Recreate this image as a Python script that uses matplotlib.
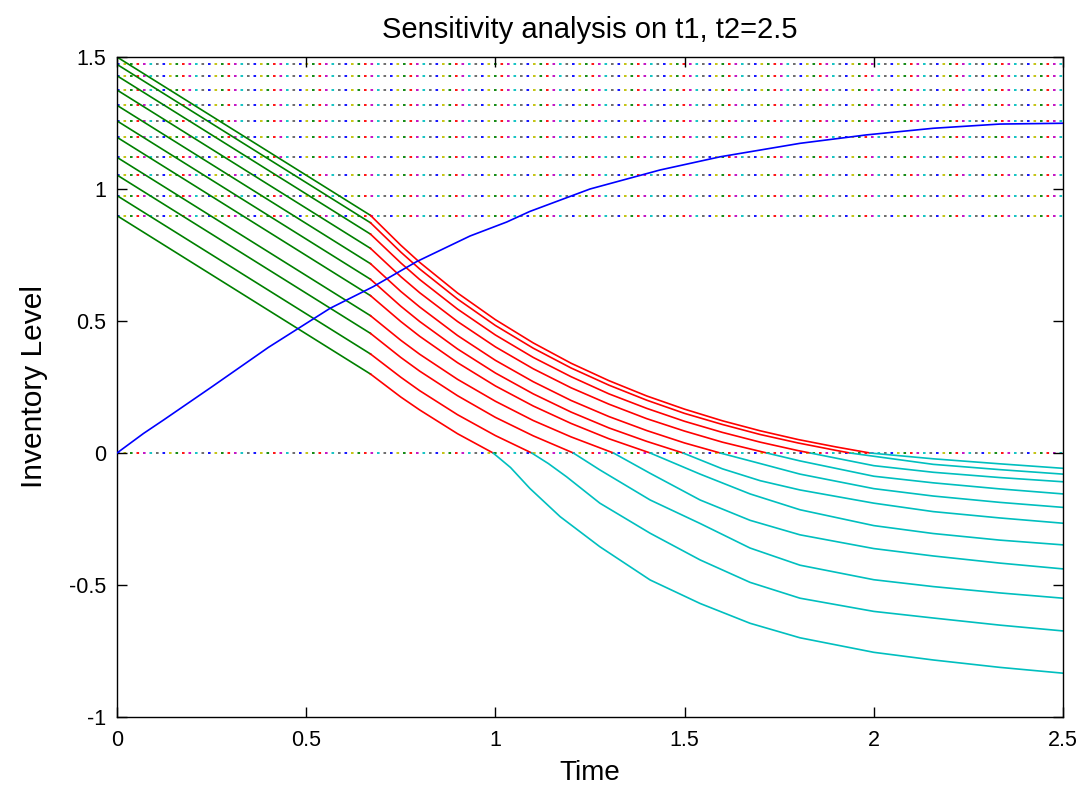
import matplotlib
matplotlib.use("Agg")
import matplotlib.pyplot as plt

# ---------------- data ----------------
t1 = 0.67
levels = [0.899, 0.975, 1.053, 1.120, 1.196, 1.258, 1.317, 1.375, 1.429, 1.472, 1.5]
green_end = [0.299, 0.375, 0.453, 0.520, 0.596, 0.658, 0.717, 0.775, 0.829, 0.872, 0.900]

red_t = [
    [0.67, 0.75, 0.8, 0.9, 0.994],
    [0.67, 0.75, 0.8, 0.9, 1.0, 1.096],
    [0.67, 0.75, 0.8, 0.9, 1.0, 1.1, 1.206],
    [0.67, 0.75, 0.8, 0.9, 1.0, 1.1, 1.2, 1.312],
    [0.67, 0.75, 0.8, 0.9, 1.0, 1.1, 1.2, 1.3, 1.409],
    [0.67, 0.75, 0.8, 0.9, 1.0, 1.1, 1.2, 1.3, 1.4, 1.496],
    [0.67, 0.75, 0.8, 0.9, 1.0, 1.1, 1.2, 1.3, 1.4, 1.5, 1.594],
    [0.67, 0.75, 0.8, 0.9, 1.0, 1.1, 1.2, 1.3, 1.4, 1.5, 1.6, 1.7, 1.717],
    [0.67, 0.75, 0.8, 0.9, 1.0, 1.1, 1.2, 1.3, 1.4, 1.5, 1.6, 1.7, 1.8, 1.832],
    [0.67, 0.75, 0.8, 0.9, 1.0, 1.1, 1.2, 1.3, 1.4, 1.5, 1.6, 1.7, 1.8, 1.9, 1.937],
    [0.67, 0.75, 0.8, 0.9, 1.0, 1.1, 1.2, 1.3, 1.4, 1.5, 1.6, 1.7, 1.8, 1.9, 1.99],
]
red_y = [
    [0.299, 0.212, 0.163, 0.073, 0.0],
    [0.375, 0.287, 0.236, 0.145, 0.066, 0.0],
    [0.453, 0.362, 0.310, 0.217, 0.135, 0.065, 0.0],
    [0.520, 0.427, 0.374, 0.279, 0.196, 0.123, 0.061, 0.0],
    [0.596, 0.498, 0.442, 0.342, 0.254, 0.178, 0.112, 0.054, 0.0],
    [0.658, 0.556, 0.498, 0.394, 0.303, 0.224, 0.155, 0.095, 0.044, 0.0],
    [0.717, 0.612, 0.553, 0.445, 0.351, 0.270, 0.199, 0.138, 0.085, 0.038, 0.0],
    [0.775, 0.668, 0.607, 0.498, 0.402, 0.319, 0.247, 0.185, 0.130, 0.083, 0.041, 0.006, 0.0],
    [0.829, 0.720, 0.657, 0.545, 0.447, 0.362, 0.289, 0.224, 0.169, 0.120, 0.078, 0.041, 0.009, 0.0],
    [0.872, 0.761, 0.697, 0.583, 0.483, 0.397, 0.322, 0.257, 0.200, 0.150, 0.108, 0.070, 0.038, 0.010, 0.0],
    [0.900, 0.787, 0.722, 0.606, 0.505, 0.417, 0.340, 0.274, 0.216, 0.166, 0.122, 0.084, 0.051, 0.023, 0.0],
]

cyan_t = [
    [0.994, 1.04, 1.091, 1.171, 1.276, 1.409, 1.541, 1.673, 1.805, 2.0, 2.157, 2.333, 2.5],
    [1.096, 1.14, 1.188, 1.276, 1.409, 1.541, 1.673, 1.805, 2.0, 2.157, 2.333, 2.5],
    [1.206, 1.276, 1.409, 1.541, 1.673, 1.805, 2.0, 2.157, 2.333, 2.5],
    [1.312, 1.409, 1.541, 1.673, 1.805, 2.0, 2.157, 2.333, 2.5],
    [1.409, 1.541, 1.673, 1.805, 2.0, 2.157, 2.333, 2.5],
    [1.496, 1.6, 1.7, 1.805, 2.0, 2.157, 2.333, 2.5],
    [1.594, 1.7, 1.805, 2.0, 2.157, 2.333, 2.5],
    [1.717, 1.805, 2.0, 2.157, 2.333, 2.5],
    [1.832, 2.0, 2.157, 2.333, 2.5],
    [1.937, 2.157, 2.333, 2.5],
    [1.99, 2.157, 2.333, 2.5],
]
cyan_y = [
    [0.0, -0.055, -0.134, -0.241, -0.355, -0.481, -0.570, -0.645, -0.700, -0.755, -0.784, -0.812, -0.834],
    [0.0, -0.040, -0.090, -0.190, -0.304, -0.405, -0.490, -0.550, -0.600, -0.625, -0.652, -0.674],
    [0.0, -0.064, -0.178, -0.267, -0.360, -0.425, -0.480, -0.506, -0.530, -0.550],
    [0.0, -0.077, -0.178, -0.255, -0.310, -0.362, -0.390, -0.417, -0.439],
    [0.0, -0.080, -0.155, -0.215, -0.275, -0.305, -0.330, -0.348],
    [0.0, -0.060, -0.105, -0.140, -0.190, -0.222, -0.246, -0.266],
    [0.0, -0.040, -0.080, -0.135, -0.163, -0.187, -0.206],
    [0.0, -0.030, -0.088, -0.113, -0.136, -0.155],
    [0.0, -0.048, -0.073, -0.093, -0.109],
    [0.0, -0.043, -0.063, -0.080],
    [0.0, -0.022, -0.041, -0.058],
]

blue_t = [0.0, 0.07, 0.123, 0.25, 0.4, 0.563, 0.677, 0.792, 0.933, 1.03, 1.091,
          1.25, 1.435, 1.594, 1.805, 1.981, 2.157, 2.333, 2.5]
blue_y = [0.0, 0.074, 0.125, 0.25, 0.40, 0.548, 0.630, 0.725, 0.822, 0.875, 0.915,
          1.00, 1.072, 1.122, 1.173, 1.205, 1.230, 1.246, 1.249]

x_ticks = [0, 0.5, 1, 1.5, 2, 2.5]
x_tick_labels = ["0", "0.5", "1", "1.5", "2", "2.5"]
y_ticks = [-1, -0.5, 0, 0.5, 1, 1.5]
y_tick_labels = ["-1", "-0.5", "0", "0.5", "1", "1.5"]

# ---------------- figure ----------------
plt.rcParams['font.family'] = ['Liberation Sans', 'DejaVu Sans']
fig = plt.figure(figsize=(10.92, 7.85), dpi=100)
ax = fig.add_axes([117 / 1092, 1 - 717 / 785, (1063 - 117) / 1092, (717 - 57) / 785])

dot_colors = ['#0000ff', '#606060', '#00bfbf', '#bf00bf', '#ff0000', '#008000', '#bfbf00']
px = 0.72
period_pt = 7 * 5 * px
dot_pt = 2.0 * px

def dotted_hline(y):
    for k, c in enumerate(dot_colors):
        ax.plot([0, 2.5], [y, y], color=c, lw=1.3,
                linestyle=(k * 5 * px, (dot_pt, period_pt - dot_pt)),
                solid_capstyle='butt', dash_capstyle='butt', zorder=1)

for lv in levels:
    dotted_hline(lv)
dotted_hline(0.0)

green_c = (0.0, 0.5, 0.0)
red_c = (1.0, 0.0, 0.0)
cyan_c = (0.0, 0.75, 0.75)
blue_c = (0.0, 0.0, 1.0)
lw = 1.2

for s, e in zip(levels, green_end):
    ax.plot([0, t1], [s, e], color=green_c, lw=lw, zorder=2)
for tt, yy in zip(red_t, red_y):
    ax.plot(tt, yy, color=red_c, lw=lw, zorder=2)
for tt, yy in zip(cyan_t, cyan_y):
    ax.plot(tt, yy, color=cyan_c, lw=lw, zorder=2)
ax.plot(blue_t, blue_y, color=blue_c, lw=lw, zorder=3)

ax.set_xlim(0, 2.5)
ax.set_ylim(-1, 1.5)
ax.set_xticks(x_ticks)
ax.set_xticklabels(x_tick_labels)
ax.set_yticks(y_ticks)
ax.set_yticklabels(y_tick_labels)
ax.tick_params(direction='in', length=7, width=1, top=True, right=True,
               labelsize=15.5, colors='black')
ax.tick_params(axis='x', pad=9)
ax.tick_params(axis='y', pad=8)
for sp in ax.spines.values():
    sp.set_linewidth(1.0)

ax.set_title("Sensitivity analysis on t1, t2=2.5", fontsize=21, pad=14)
ax.set_xlabel("Time", fontsize=20, labelpad=7)
ax.set_ylabel("Inventory Level", fontsize=21.5, labelpad=15)

fig.savefig("out.png", dpi=100)
